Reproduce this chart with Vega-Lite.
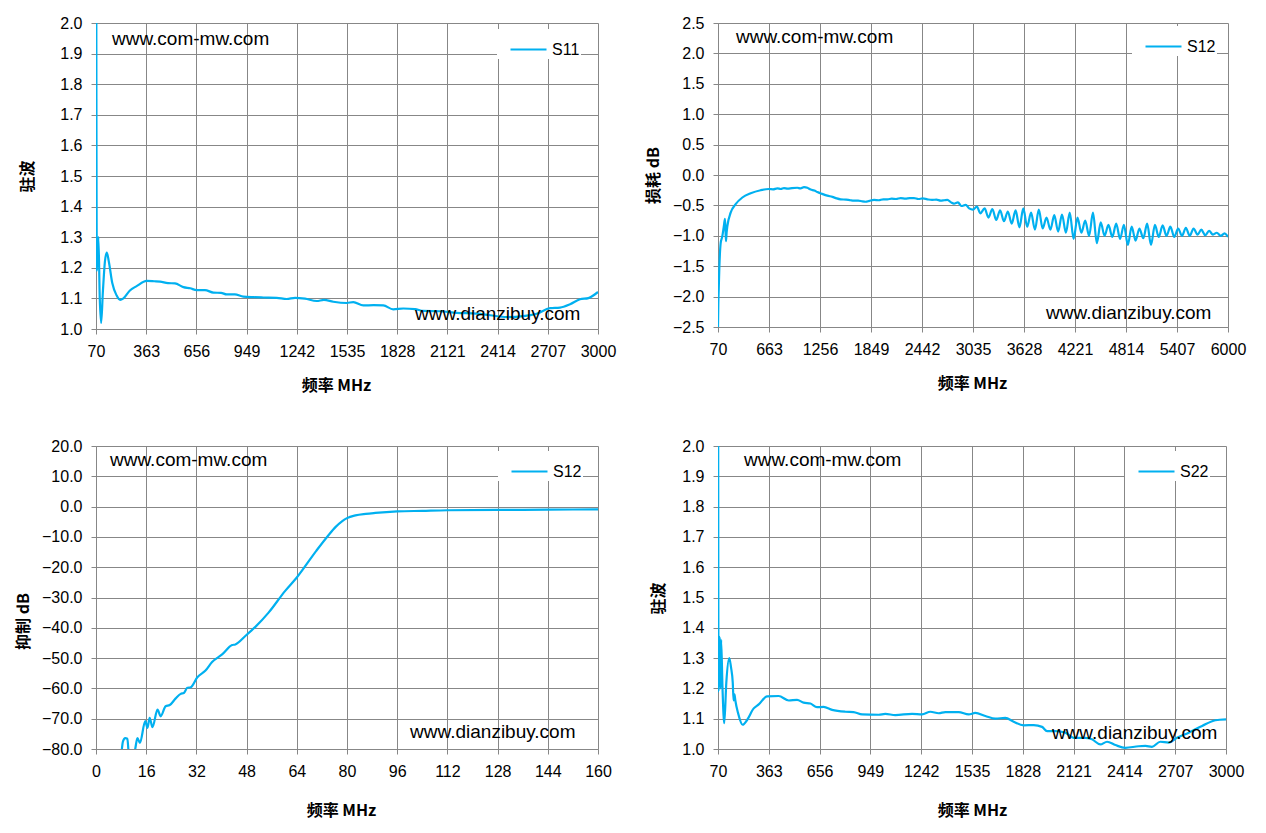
{
  "$schema": "https://vega.github.io/schema/vega-lite/v6.json",
  "background": "white",
  "padding": {"left": 15, "top": 15, "right": 5, "bottom": 5},
  "config": {
    "view": {"stroke": null},
    "axis": {
      "gridColor": "#878787", "domainColor": "#878787", "tickColor": "#878787",
      "gridOpacity": 1, "tickSize": 5, "labelPadding": 9, "labelOverlap": false, "labelFlush": false,
      "tickCount": 30,
      "labelFont": "Liberation Sans", "labelFontSize": 16, "labelColor": "#000000",
      "titleFont": "Noto Sans CJK SC", "titleFontSize": 16, "titleFontWeight": "bold", "titleColor": "#000000",
      "titleAlign": "center", "titleBaseline": "middle"
    },
    "legend": {
      "orient": "none", "title": null, "symbolType": "stroke", "symbolSize": 1296,
      "symbolStrokeWidth": 2.5, "labelFont": "Liberation Sans", "labelFontSize": 16,
      "labelColor": "#000000", "fillColor": "white", "padding": 1, "symbolOffset": 11, "labelOffset": 4
    },
    "line": {"strokeWidth": 2.2, "interpolate": "monotone"},
    "text": {"font": "Liberation Sans", "fontSize": 19, "color": "#000000", "align": "left", "baseline": "middle"}
  },
  "datasets": {
    "s11": [
      {"series": "S11", "freq": 70, "value": 3.0}, {"series": "S11", "freq": 75, "value": 1.19},
      {"series": "S11", "freq": 84, "value": 1.30}, {"series": "S11", "freq": 92, "value": 1.10},
      {"series": "S11", "freq": 100, "value": 1.02}, {"series": "S11", "freq": 110, "value": 1.12},
      {"series": "S11", "freq": 122, "value": 1.22}, {"series": "S11", "freq": 133, "value": 1.25},
      {"series": "S11", "freq": 145, "value": 1.22}, {"series": "S11", "freq": 165, "value": 1.15},
      {"series": "S11", "freq": 190, "value": 1.11}, {"series": "S11", "freq": 211, "value": 1.095},
      {"series": "S11", "freq": 230, "value": 1.10}, {"series": "S11", "freq": 268, "value": 1.126},
      {"series": "S11", "freq": 307, "value": 1.14}, {"series": "S11", "freq": 366, "value": 1.157},
      {"series": "S11", "freq": 410, "value": 1.156}, {"series": "S11", "freq": 444, "value": 1.155},
      {"series": "S11", "freq": 490, "value": 1.15}, {"series": "S11", "freq": 531, "value": 1.149},
      {"series": "S11", "freq": 580, "value": 1.137}, {"series": "S11", "freq": 620, "value": 1.133},
      {"series": "S11", "freq": 658, "value": 1.127}, {"series": "S11", "freq": 706, "value": 1.127},
      {"series": "S11", "freq": 755, "value": 1.119}, {"series": "S11", "freq": 800, "value": 1.118},
      {"series": "S11", "freq": 833, "value": 1.113}, {"series": "S11", "freq": 880, "value": 1.113},
      {"series": "S11", "freq": 930, "value": 1.106}, {"series": "S11", "freq": 990, "value": 1.104},
      {"series": "S11", "freq": 1047, "value": 1.103}, {"series": "S11", "freq": 1125, "value": 1.102},
      {"series": "S11", "freq": 1183, "value": 1.098}, {"series": "S11", "freq": 1232, "value": 1.102},
      {"series": "S11", "freq": 1290, "value": 1.099}, {"series": "S11", "freq": 1358, "value": 1.0915},
      {"series": "S11", "freq": 1400, "value": 1.095}, {"series": "S11", "freq": 1455, "value": 1.089},
      {"series": "S11", "freq": 1533, "value": 1.085}, {"series": "S11", "freq": 1572, "value": 1.088},
      {"series": "S11", "freq": 1630, "value": 1.077}, {"series": "S11", "freq": 1690, "value": 1.078},
      {"series": "S11", "freq": 1747, "value": 1.077}, {"series": "S11", "freq": 1805, "value": 1.064},
      {"series": "S11", "freq": 1864, "value": 1.067}, {"series": "S11", "freq": 1932, "value": 1.065},
      {"series": "S11", "freq": 1980, "value": 1.059}, {"series": "S11", "freq": 2078, "value": 1.058},
      {"series": "S11", "freq": 2175, "value": 1.053}, {"series": "S11", "freq": 2292, "value": 1.05},
      {"series": "S11", "freq": 2370, "value": 1.045}, {"series": "S11", "freq": 2467, "value": 1.039},
      {"series": "S11", "freq": 2564, "value": 1.042}, {"series": "S11", "freq": 2642, "value": 1.05},
      {"series": "S11", "freq": 2720, "value": 1.068}, {"series": "S11", "freq": 2778, "value": 1.07},
      {"series": "S11", "freq": 2837, "value": 1.081}, {"series": "S11", "freq": 2895, "value": 1.097},
      {"series": "S11", "freq": 2944, "value": 1.101}, {"series": "S11", "freq": 3000, "value": 1.121}
    ],
    "loss": [
      {"series": "S12", "freq": 70, "value": -2.5}, {"series": "S12", "freq": 74, "value": -2.1},
      {"series": "S12", "freq": 78, "value": -1.9}, {"series": "S12", "freq": 86, "value": -1.51},
      {"series": "S12", "freq": 101, "value": -1.12}, {"series": "S12", "freq": 120, "value": -1.01},
      {"series": "S12", "freq": 132, "value": -0.9}, {"series": "S12", "freq": 140, "value": -0.82},
      {"series": "S12", "freq": 151, "value": -0.72}, {"series": "S12", "freq": 157, "value": -0.9},
      {"series": "S12", "freq": 163, "value": -1.09}, {"series": "S12", "freq": 170, "value": -0.95},
      {"series": "S12", "freq": 179, "value": -0.84}, {"series": "S12", "freq": 217, "value": -0.62},
      {"series": "S12", "freq": 275, "value": -0.48}, {"series": "S12", "freq": 353, "value": -0.37},
      {"series": "S12", "freq": 450, "value": -0.30}, {"series": "S12", "freq": 566, "value": -0.25},
      {"series": "S12", "freq": 663, "value": -0.23}, {"series": "S12", "freq": 710, "value": -0.235},
      {"series": "S12", "freq": 760, "value": -0.22}, {"series": "S12", "freq": 800, "value": -0.23},
      {"series": "S12", "freq": 837, "value": -0.215}, {"series": "S12", "freq": 880, "value": -0.225},
      {"series": "S12", "freq": 930, "value": -0.215}, {"series": "S12", "freq": 992, "value": -0.21},
      {"series": "S12", "freq": 1030, "value": -0.22}, {"series": "S12", "freq": 1070, "value": -0.20},
      {"series": "S12", "freq": 1109, "value": -0.21}, {"series": "S12", "freq": 1148, "value": -0.24},
      {"series": "S12", "freq": 1190, "value": -0.255}, {"series": "S12", "freq": 1225, "value": -0.28},
      {"series": "S12", "freq": 1280, "value": -0.31}, {"series": "S12", "freq": 1341, "value": -0.34},
      {"series": "S12", "freq": 1400, "value": -0.36}, {"series": "S12", "freq": 1450, "value": -0.385},
      {"series": "S12", "freq": 1496, "value": -0.40}, {"series": "S12", "freq": 1560, "value": -0.405},
      {"series": "S12", "freq": 1610, "value": -0.415}, {"series": "S12", "freq": 1651, "value": -0.42},
      {"series": "S12", "freq": 1700, "value": -0.42}, {"series": "S12", "freq": 1750, "value": -0.435},
      {"series": "S12", "freq": 1787, "value": -0.44}, {"series": "S12", "freq": 1830, "value": -0.425},
      {"series": "S12", "freq": 1884, "value": -0.41}, {"series": "S12", "freq": 1940, "value": -0.415},
      {"series": "S12", "freq": 1990, "value": -0.40}, {"series": "S12", "freq": 2039, "value": -0.40},
      {"series": "S12", "freq": 2090, "value": -0.39}, {"series": "S12", "freq": 2140, "value": -0.395},
      {"series": "S12", "freq": 2194, "value": -0.38}, {"series": "S12", "freq": 2250, "value": -0.39},
      {"series": "S12", "freq": 2300, "value": -0.38}, {"series": "S12", "freq": 2349, "value": -0.38},
      {"series": "S12", "freq": 2400, "value": -0.395}, {"series": "S12", "freq": 2450, "value": -0.385},
      {"series": "S12", "freq": 2504, "value": -0.40}, {"series": "S12", "freq": 2560, "value": -0.41},
      {"series": "S12", "freq": 2610, "value": -0.405}, {"series": "S12", "freq": 2659, "value": -0.42},
      {"series": "S12", "freq": 2700, "value": -0.415}, {"series": "S12", "freq": 2737, "value": -0.41},
      {"series": "S12", "freq": 2780, "value": -0.45}, {"series": "S12", "freq": 2814, "value": -0.47},
      {"series": "S12", "freq": 2860, "value": -0.45}, {"series": "S12", "freq": 2900, "value": -0.51},
      {"series": "S12", "freq": 2950, "value": -0.49}, {"series": "S12", "freq": 2990, "value": -0.55},
      {"series": "S12", "freq": 3035, "value": -0.57}, {"series": "S12", "freq": 3080, "value": -0.52},
      {"series": "S12", "freq": 3120, "value": -0.63}, {"series": "S12", "freq": 3170, "value": -0.55},
      {"series": "S12", "freq": 3215, "value": -0.70}, {"series": "S12", "freq": 3260, "value": -0.56},
      {"series": "S12", "freq": 3305, "value": -0.74}, {"series": "S12", "freq": 3350, "value": -0.58},
      {"series": "S12", "freq": 3395, "value": -0.76}, {"series": "S12", "freq": 3440, "value": -0.60},
      {"series": "S12", "freq": 3485, "value": -0.80}, {"series": "S12", "freq": 3530, "value": -0.58},
      {"series": "S12", "freq": 3575, "value": -0.86}, {"series": "S12", "freq": 3620, "value": -0.55},
      {"series": "S12", "freq": 3665, "value": -0.85}, {"series": "S12", "freq": 3710, "value": -0.62},
      {"series": "S12", "freq": 3755, "value": -0.90}, {"series": "S12", "freq": 3800, "value": -0.57},
      {"series": "S12", "freq": 3845, "value": -0.88}, {"series": "S12", "freq": 3890, "value": -0.70},
      {"series": "S12", "freq": 3935, "value": -0.90}, {"series": "S12", "freq": 3980, "value": -0.66},
      {"series": "S12", "freq": 4025, "value": -0.93}, {"series": "S12", "freq": 4070, "value": -0.65},
      {"series": "S12", "freq": 4115, "value": -0.95}, {"series": "S12", "freq": 4160, "value": -0.62},
      {"series": "S12", "freq": 4205, "value": -1.05}, {"series": "S12", "freq": 4250, "value": -0.70},
      {"series": "S12", "freq": 4295, "value": -0.95}, {"series": "S12", "freq": 4340, "value": -0.75},
      {"series": "S12", "freq": 4385, "value": -1.00}, {"series": "S12", "freq": 4430, "value": -0.62},
      {"series": "S12", "freq": 4475, "value": -1.12}, {"series": "S12", "freq": 4520, "value": -0.78},
      {"series": "S12", "freq": 4565, "value": -1.00}, {"series": "S12", "freq": 4610, "value": -0.82},
      {"series": "S12", "freq": 4655, "value": -1.02}, {"series": "S12", "freq": 4700, "value": -0.80},
      {"series": "S12", "freq": 4745, "value": -1.05}, {"series": "S12", "freq": 4790, "value": -0.82},
      {"series": "S12", "freq": 4835, "value": -1.15}, {"series": "S12", "freq": 4880, "value": -0.85},
      {"series": "S12", "freq": 4925, "value": -1.08}, {"series": "S12", "freq": 4970, "value": -0.88},
      {"series": "S12", "freq": 5015, "value": -1.04}, {"series": "S12", "freq": 5060, "value": -0.80},
      {"series": "S12", "freq": 5105, "value": -1.15}, {"series": "S12", "freq": 5150, "value": -0.82},
      {"series": "S12", "freq": 5195, "value": -1.02}, {"series": "S12", "freq": 5240, "value": -0.83},
      {"series": "S12", "freq": 5285, "value": -1.00}, {"series": "S12", "freq": 5330, "value": -0.85},
      {"series": "S12", "freq": 5375, "value": -1.02}, {"series": "S12", "freq": 5420, "value": -0.88},
      {"series": "S12", "freq": 5465, "value": -1.00}, {"series": "S12", "freq": 5510, "value": -0.87},
      {"series": "S12", "freq": 5555, "value": -1.00}, {"series": "S12", "freq": 5600, "value": -0.88},
      {"series": "S12", "freq": 5645, "value": -0.98}, {"series": "S12", "freq": 5690, "value": -0.90},
      {"series": "S12", "freq": 5735, "value": -0.99}, {"series": "S12", "freq": 5780, "value": -0.92},
      {"series": "S12", "freq": 5825, "value": -0.98}, {"series": "S12", "freq": 5870, "value": -0.95},
      {"series": "S12", "freq": 5915, "value": -1.00}, {"series": "S12", "freq": 5960, "value": -0.96},
      {"series": "S12", "freq": 6000, "value": -1.02}
    ],
    "rejection": [
      {"series": "S12", "freq": 8.2, "value": -80.5}, {"series": "S12", "freq": 8.6, "value": -77.5},
      {"series": "S12", "freq": 9.3, "value": -76.4}, {"series": "S12", "freq": 10.0, "value": -76.6},
      {"series": "S12", "freq": 10.4, "value": -81}, {"series": "S12", "freq": 11.5, "value": -85},
      {"series": "S12", "freq": 12.5, "value": -80}, {"series": "S12", "freq": 13.2, "value": -76.4},
      {"series": "S12", "freq": 14.0, "value": -78}, {"series": "S12", "freq": 15.7, "value": -70.8},
      {"series": "S12", "freq": 16.4, "value": -73}, {"series": "S12", "freq": 17.1, "value": -69.7},
      {"series": "S12", "freq": 18.0, "value": -72.8}, {"series": "S12", "freq": 19.6, "value": -67},
      {"series": "S12", "freq": 20.6, "value": -69.2}, {"series": "S12", "freq": 22.2, "value": -65.9},
      {"series": "S12", "freq": 23.5, "value": -65.5}, {"series": "S12", "freq": 25.4, "value": -63.3},
      {"series": "S12", "freq": 27.0, "value": -61.8}, {"series": "S12", "freq": 28.0, "value": -61.5},
      {"series": "S12", "freq": 29.1, "value": -59.8}, {"series": "S12", "freq": 30.2, "value": -59.6},
      {"series": "S12", "freq": 32.3, "value": -56.3}, {"series": "S12", "freq": 34.9, "value": -54.1},
      {"series": "S12", "freq": 37.0, "value": -51.3}, {"series": "S12", "freq": 40.2, "value": -48.8},
      {"series": "S12", "freq": 43.4, "value": -45.7}, {"series": "S12", "freq": 44.4, "value": -45.5},
      {"series": "S12", "freq": 47.6, "value": -42.7}, {"series": "S12", "freq": 50.8, "value": -39.7},
      {"series": "S12", "freq": 55.0, "value": -35.0}, {"series": "S12", "freq": 60.3, "value": -27.8},
      {"series": "S12", "freq": 64.0, "value": -23.4}, {"series": "S12", "freq": 70.2, "value": -14.6},
      {"series": "S12", "freq": 73.9, "value": -9.7}, {"series": "S12", "freq": 76.4, "value": -6.7},
      {"series": "S12", "freq": 78.5, "value": -4.8}, {"series": "S12", "freq": 80.0, "value": -3.8},
      {"series": "S12", "freq": 82.7, "value": -2.9}, {"series": "S12", "freq": 86.0, "value": -2.4},
      {"series": "S12", "freq": 89.0, "value": -2.1}, {"series": "S12", "freq": 96.0, "value": -1.6},
      {"series": "S12", "freq": 104.0, "value": -1.4}, {"series": "S12", "freq": 112.0, "value": -1.2},
      {"series": "S12", "freq": 128.0, "value": -1.1}, {"series": "S12", "freq": 144.0, "value": -1.0},
      {"series": "S12", "freq": 160.0, "value": -0.9}
    ],
    "s22": [
      {"series": "S22", "freq": 70, "value": 3.0}, {"series": "S22", "freq": 73, "value": 1.19},
      {"series": "S22", "freq": 80, "value": 1.37}, {"series": "S22", "freq": 84, "value": 1.20},
      {"series": "S22", "freq": 88, "value": 1.36}, {"series": "S22", "freq": 96, "value": 1.20},
      {"series": "S22", "freq": 106, "value": 1.085}, {"series": "S22", "freq": 118, "value": 1.22},
      {"series": "S22", "freq": 135, "value": 1.30}, {"series": "S22", "freq": 145, "value": 1.27},
      {"series": "S22", "freq": 155, "value": 1.22}, {"series": "S22", "freq": 160, "value": 1.16},
      {"series": "S22", "freq": 165, "value": 1.18}, {"series": "S22", "freq": 170, "value": 1.16},
      {"series": "S22", "freq": 185, "value": 1.12}, {"series": "S22", "freq": 212, "value": 1.08},
      {"series": "S22", "freq": 237, "value": 1.095}, {"series": "S22", "freq": 276, "value": 1.134},
      {"series": "S22", "freq": 305, "value": 1.147}, {"series": "S22", "freq": 353, "value": 1.174},
      {"series": "S22", "freq": 420, "value": 1.175}, {"series": "S22", "freq": 478, "value": 1.16},
      {"series": "S22", "freq": 526, "value": 1.162}, {"series": "S22", "freq": 564, "value": 1.153},
      {"series": "S22", "freq": 603, "value": 1.15}, {"series": "S22", "freq": 641, "value": 1.138},
      {"series": "S22", "freq": 679, "value": 1.139}, {"series": "S22", "freq": 728, "value": 1.129},
      {"series": "S22", "freq": 804, "value": 1.123}, {"series": "S22", "freq": 852, "value": 1.122},
      {"series": "S22", "freq": 901, "value": 1.114}, {"series": "S22", "freq": 997, "value": 1.113},
      {"series": "S22", "freq": 1035, "value": 1.116}, {"series": "S22", "freq": 1093, "value": 1.112},
      {"series": "S22", "freq": 1189, "value": 1.116}, {"series": "S22", "freq": 1247, "value": 1.114},
      {"series": "S22", "freq": 1295, "value": 1.123}, {"series": "S22", "freq": 1343, "value": 1.118},
      {"series": "S22", "freq": 1381, "value": 1.122}, {"series": "S22", "freq": 1458, "value": 1.122},
      {"series": "S22", "freq": 1516, "value": 1.114}, {"series": "S22", "freq": 1554, "value": 1.119},
      {"series": "S22", "freq": 1612, "value": 1.109}, {"series": "S22", "freq": 1670, "value": 1.1},
      {"series": "S22", "freq": 1727, "value": 1.103}, {"series": "S22", "freq": 1775, "value": 1.09},
      {"series": "S22", "freq": 1833, "value": 1.078}, {"series": "S22", "freq": 1891, "value": 1.079},
      {"series": "S22", "freq": 1939, "value": 1.073}, {"series": "S22", "freq": 1968, "value": 1.059},
      {"series": "S22", "freq": 2016, "value": 1.059}, {"series": "S22", "freq": 2073, "value": 1.054},
      {"series": "S22", "freq": 2121, "value": 1.037}, {"series": "S22", "freq": 2189, "value": 1.037},
      {"series": "S22", "freq": 2227, "value": 1.032}, {"series": "S22", "freq": 2275, "value": 1.015},
      {"series": "S22", "freq": 2314, "value": 1.024}, {"series": "S22", "freq": 2362, "value": 1.013},
      {"series": "S22", "freq": 2419, "value": 1.004}, {"series": "S22", "freq": 2496, "value": 1.009},
      {"series": "S22", "freq": 2535, "value": 1.01}, {"series": "S22", "freq": 2573, "value": 1.007},
      {"series": "S22", "freq": 2621, "value": 1.024}, {"series": "S22", "freq": 2669, "value": 1.021},
      {"series": "S22", "freq": 2717, "value": 1.037}, {"series": "S22", "freq": 2785, "value": 1.054},
      {"series": "S22", "freq": 2862, "value": 1.076}, {"series": "S22", "freq": 2939, "value": 1.095},
      {"series": "S22", "freq": 3000, "value": 1.098}
    ],
    "marks": [
      {"panel": 1, "freq": 163, "value": 1.948, "label": "www.com-mw.com"},
      {"panel": 1, "freq": 1932, "value": 1.049, "label": "www.dianzibuy.com"},
      {"panel": 2, "freq": 279, "value": 2.27, "label": "www.com-mw.com"},
      {"panel": 2, "freq": 3884, "value": -2.27, "label": "www.dianzibuy.com"},
      {"panel": 3, "freq": 4.46, "value": 15.4, "label": "www.com-mw.com"},
      {"panel": 3, "freq": 100.1, "value": -74.4, "label": "www.dianzibuy.com"},
      {"panel": 4, "freq": 220, "value": 1.954, "label": "www.com-mw.com"},
      {"panel": 4, "freq": 1996, "value": 1.053, "label": "www.dianzibuy.com"}
    ]
  },
  "columns": 2,
  "spacing": {"row": 117, "column": 120},
  "bounds": "flush",
  "resolve": {"scale": {"color": "independent"}},
  "concat": [
    {
      "width": 502,
      "height": 306,
      "layer": [
        {
          "data": {"name": "s11"},
          "mark": {"type": "line", "clip": true},
          "encoding": {
            "x": {"field": "freq", "type": "quantitative",
              "scale": {"domain": [70, 3000], "nice": false, "zero": false},
              "axis": {"values": [70, 363, 656, 949, 1242, 1535, 1828, 2121, 2414, 2707, 3000], "format": "d",
                "title": "频率  MHz", "titleX": 240, "titleY": 56}},
            "y": {"field": "value", "type": "quantitative",
              "scale": {"domain": [1, 2], "nice": false, "zero": false},
              "axis": {"values": [1, 1.1, 1.2, 1.3, 1.4, 1.5, 1.6, 1.7, 1.8, 1.9, 2], "format": ".1f",
                "title": "驻波", "titleX": -69, "titleY": 153}},
            "color": {"field": "series", "type": "nominal", "scale": {"range": ["#00B0F0"]},
              "legend": {"legendX": 401, "legendY": 6}}
          }
        },
        {
          "data": {"name": "marks"},
          "transform": [{"filter": "datum.panel == 1"}],
          "mark": "text",
          "encoding": {
            "x": {"field": "freq", "type": "quantitative"},
            "y": {"field": "value", "type": "quantitative"},
            "text": {"field": "label"}
          }
        }
      ]
    },
    {
      "width": 510,
      "height": 304,
      "layer": [
        {
          "data": {"name": "loss"},
          "mark": {"type": "line", "clip": true},
          "encoding": {
            "x": {"field": "freq", "type": "quantitative",
              "scale": {"domain": [70, 6000], "nice": false, "zero": false},
              "axis": {"values": [70, 663, 1256, 1849, 2442, 3035, 3628, 4221, 4814, 5407, 6000], "format": "d",
                "title": "频率  MHz", "titleX": 254, "titleY": 56}},
            "y": {"field": "value", "type": "quantitative",
              "scale": {"domain": [-2.5, 2.5], "nice": false, "zero": false},
              "axis": {"values": [-2.5, -2, -1.5, -1, -0.5, 0, 0.5, 1, 1.5, 2, 2.5], "format": ".1f",
                "title": "损耗 dB", "titleX": -65, "titleY": 152}},
            "color": {"field": "series", "type": "nominal", "scale": {"range": ["#00B0F0"]},
              "legend": {"legendX": 414, "legendY": 3}}
          }
        },
        {
          "data": {"name": "marks"},
          "transform": [{"filter": "datum.panel == 2"}],
          "mark": "text",
          "encoding": {
            "x": {"field": "freq", "type": "quantitative"},
            "y": {"field": "value", "type": "quantitative"},
            "text": {"field": "label"}
          }
        }
      ]
    },
    {
      "width": 502,
      "height": 303,
      "layer": [
        {
          "data": {"name": "rejection"},
          "mark": {"type": "line", "clip": true},
          "encoding": {
            "x": {"field": "freq", "type": "quantitative",
              "scale": {"domain": [0, 160], "nice": false},
              "axis": {"values": [0, 16, 32, 48, 64, 80, 96, 112, 128, 144, 160], "format": "d",
                "title": "频率  MHz", "titleX": 245, "titleY": 61}},
            "y": {"field": "value", "type": "quantitative",
              "scale": {"domain": [-80, 20], "nice": false},
              "axis": {"values": [-80, -70, -60, -50, -40, -30, -20, -10, 0, 10, 20], "format": ".1f",
                "title": "抑制 dB", "titleX": -73, "titleY": 175}},
            "color": {"field": "series", "type": "nominal", "scale": {"range": ["#00B0F0"]},
              "legend": {"legendX": 402, "legendY": 5}}
          }
        },
        {
          "data": {"name": "marks"},
          "transform": [{"filter": "datum.panel == 3"}],
          "mark": "text",
          "encoding": {
            "x": {"field": "freq", "type": "quantitative"},
            "y": {"field": "value", "type": "quantitative"},
            "text": {"field": "label"}
          }
        }
      ]
    },
    {
      "width": 508,
      "height": 303,
      "layer": [
        {
          "data": {"name": "s22"},
          "mark": {"type": "line", "clip": true},
          "encoding": {
            "x": {"field": "freq", "type": "quantitative",
              "scale": {"domain": [70, 3000], "nice": false, "zero": false},
              "axis": {"values": [70, 363, 656, 949, 1242, 1535, 1828, 2121, 2414, 2707, 3000], "format": "d",
                "title": "频率  MHz", "titleX": 254, "titleY": 61}},
            "y": {"field": "value", "type": "quantitative",
              "scale": {"domain": [1, 2], "nice": false, "zero": false},
              "axis": {"values": [1, 1.1, 1.2, 1.3, 1.4, 1.5, 1.6, 1.7, 1.8, 1.9, 2], "format": ".1f",
                "title": "驻波", "titleX": -60, "titleY": 152}},
            "color": {"field": "series", "type": "nominal", "scale": {"range": ["#00B0F0"]},
              "legend": {"legendX": 407, "legendY": 5}}
          }
        },
        {
          "data": {"name": "marks"},
          "transform": [{"filter": "datum.panel == 4"}],
          "mark": "text",
          "encoding": {
            "x": {"field": "freq", "type": "quantitative"},
            "y": {"field": "value", "type": "quantitative"},
            "text": {"field": "label"}
          }
        }
      ]
    }
  ]
}
